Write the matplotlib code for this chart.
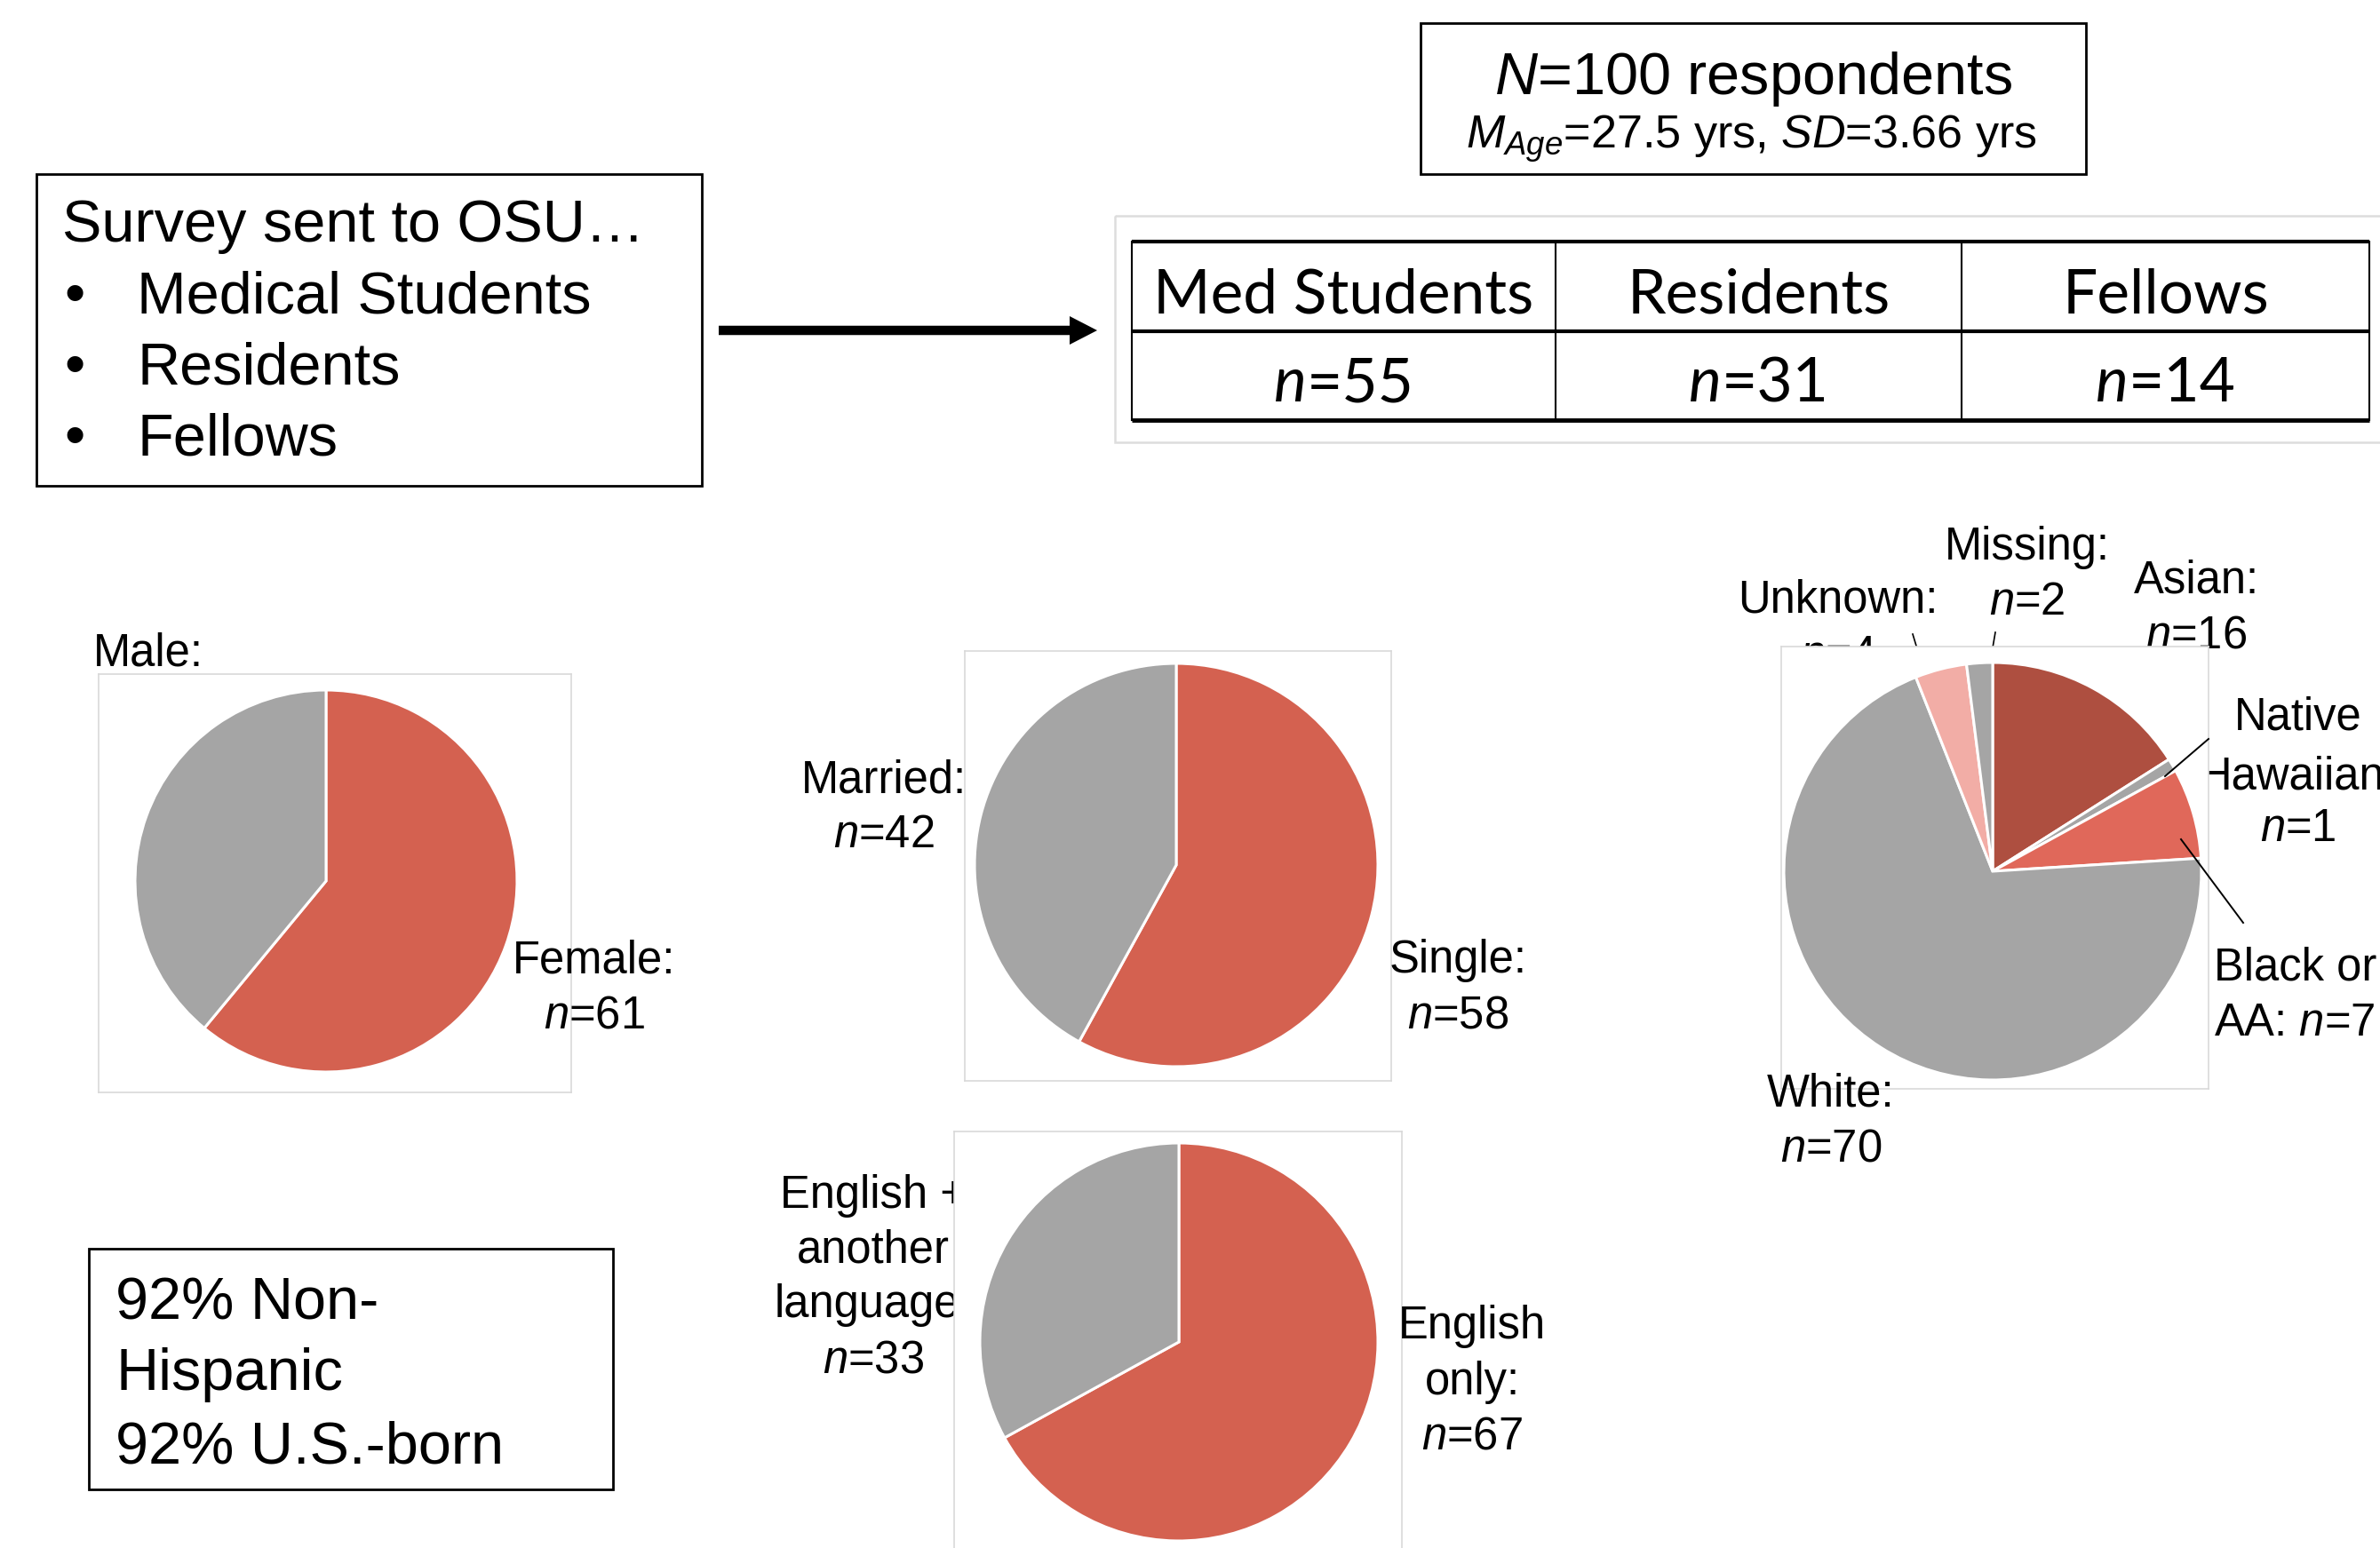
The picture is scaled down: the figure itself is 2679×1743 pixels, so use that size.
import matplotlib
matplotlib.use("Agg")
import matplotlib.pyplot as plt
from matplotlib.patches import Rectangle, FancyArrow

# ---------------------------------------------------------------- data
total_n = 100
mean_age = 27.5
sd_age = 3.66

survey_groups = ["Medical Students", "Residents", "Fellows"]

training_groups = ["Med Students", "Residents", "Fellows"]
training_counts = [55, 31, 14]

gender_labels = ["Female", "Male"]
gender_counts = [61, 39]

marital_labels = ["Single", "Married"]
marital_counts = [58, 42]

language_labels = ["English only", "English + another language"]
language_counts = [67, 33]

race_labels = ["Asian", "Native Hawaiian", "Black or AA", "White", "Unknown", "Missing"]
race_counts = [16, 1, 7, 70, 4, 2]

non_hispanic_pct = 92
us_born_pct = 92

# ---------------------------------------------------------------- style
W, H = 2679, 1743
DPI = 100

RED = "#D46150"
GRAY = "#A5A5A5"
race_colors = ["#AE4F40", GRAY, "#E0685A", GRAY, "#F2ADA6", GRAY]
FRAME = "#D9D9D9"
LABEL_SIZE = 36.5
BOX_SIZE = 48

plt.rcParams.update({
    "font.family": ["Liberation Sans", "DejaVu Sans"],
    "mathtext.fontset": "custom",
    "mathtext.rm": "Liberation Sans",
    "mathtext.it": "Liberation Sans:italic",
    "mathtext.bf": "Liberation Sans:bold",
})

fig = plt.figure(figsize=(W / DPI, H / DPI), dpi=DPI, facecolor="white")


def canvas_axes(z):
    ax = fig.add_axes([0, 0, 1, 1], zorder=z)
    ax.set_xlim(0, W)
    ax.set_ylim(H, 0)
    ax.axis("off")
    return ax


bg = canvas_axes(0)   # layer beneath the chart panels
fg = canvas_axes(5)   # layer above the chart panels


def nstr(v):
    return rf"$n$={v}"


def label_lines(name, count, wrap=None, same_line=False):
    parts = list(wrap) if wrap else [name]
    parts[-1] = parts[-1] + ":"
    if same_line:
        parts[-1] += " " + nstr(count)
    else:
        parts.append(nstr(count))
    return parts


def put_label(ax, x, baselines, lines, ha="center", size=LABEL_SIZE):
    for y, s in zip(baselines, lines):
        ax.text(x, y, s, ha=ha, va="baseline", fontsize=size, color="black")


def pie_panel(frame, center, radius, counts, colors):
    x0, y0, x1, y1 = frame
    ax = fig.add_axes([x0 / W, 1 - y1 / H, (x1 - x0) / W, (y1 - y0) / H], zorder=2)
    ax.pie(counts, colors=colors, startangle=90, counterclock=False,
           center=(center[0], H - center[1]), radius=radius,
           wedgeprops=dict(edgecolor="white", linewidth=2.2))
    ax.set_aspect("auto")
    ax.set_xlim(x0, x1)
    ax.set_ylim(H - y1, H - y0)
    ax.set_frame_on(True)
    ax.set_facecolor("white")
    ax.set_xticks([])
    ax.set_yticks([])
    for s in ax.spines.values():
        s.set_color(FRAME)
        s.set_linewidth(1.2)
    return ax


# ---------------------------------------------------------------- survey box
bg.add_patch(Rectangle((41, 196), 749, 351, fill=False, ec="black", lw=2))
bg.text(70, 272, "Survey sent to OSU\u2026", ha="left", va="baseline", fontsize=BOX_SIZE)
for i, grp in enumerate(survey_groups):
    yb = 352 + 80 * i
    bg.text(72, yb, "\u2022", ha="left", va="baseline", fontsize=BOX_SIZE)
    bg.text(154, yb, grp, ha="left", va="baseline", fontsize=BOX_SIZE)

bg.add_patch(FancyArrow(809, 372, 426, 0, width=10.5, head_width=32, head_length=31,
                        length_includes_head=True, color="black", lw=0))

# ---------------------------------------------------------------- N box
bg.add_patch(Rectangle((1599, 26), 749, 170, fill=False, ec="black", lw=2))
bg.text(1973, 106, rf"$N$={total_n} respondents", ha="center", va="baseline", fontsize=48)
bg.text(1971, 167, rf"$M_{{Age}}$={mean_age} yrs, $SD$={sd_age} yrs",
        ha="center", va="baseline", fontsize=37.5)

# ---------------------------------------------------------------- training table
bg.add_patch(Rectangle((1255, 243), 1440, 255, fill=False, ec="#DDDDDD", lw=1.8))
col_edges = [1274, 1751, 2208, 2667]
for yl, lw in [(272, 3), (373, 3), (473, 3.5)]:
    bg.plot([col_edges[0], col_edges[-1]], [yl, yl], color="black", lw=lw,
            solid_capstyle="butt")
for xe in col_edges:
    bg.plot([xe, xe], [272, 473], color="black", lw=1.5)

TABLE_FONT = ["Lato", "DejaVu Sans"]
TABLE_SIZE = 50
renderer = fig.canvas.get_renderer()
for i, (grp, cnt) in enumerate(zip(training_groups, training_counts)):
    cx = (col_edges[i] + col_edges[i + 1]) / 2
    bg.text(cx, 352, grp, ha="center", va="baseline", fontsize=TABLE_SIZE,
            family=TABLE_FONT)
    tn = bg.text(0, 452, "n", ha="left", va="baseline", fontsize=TABLE_SIZE,
                 family=TABLE_FONT, style="italic")
    te = bg.text(0, 452, f"={cnt}", ha="left", va="baseline", fontsize=TABLE_SIZE,
                 family=TABLE_FONT)
    wn = tn.get_window_extent(renderer).width
    we = te.get_window_extent(renderer).width
    x0 = cx - (wn + we) / 2
    tn.set_x(x0)
    te.set_x(x0 + wn)

# ---------------------------------------------------------------- gender pie
pie_panel((111, 759, 643, 1230), (367, 992), 215, gender_counts, [RED, GRAY])
put_label(fg, 669, [1096, 1157], label_lines(gender_labels[0], gender_counts[0]))
put_label(bg, 167, [749, 810], label_lines(gender_labels[1], gender_counts[1]))

# ---------------------------------------------------------------- marital pie
pie_panel((1086, 733, 1566, 1217), (1324, 974), 227, marital_counts, [RED, GRAY])
put_label(fg, 1641, [1095, 1158], label_lines(marital_labels[0], marital_counts[0]))
put_label(bg, 995, [892, 954], label_lines(marital_labels[1], marital_counts[1]))

# ---------------------------------------------------------------- language pie
pie_panel((1074, 1274, 1578, 1760), (1327, 1511), 224, language_counts, [RED, GRAY])
put_label(fg, 1657, [1507, 1570, 1632],
          label_lines(language_labels[0], language_counts[0], wrap=["English", "only"]))
put_label(bg, 983, [1360, 1422, 1483, 1545],
          label_lines(language_labels[1], language_counts[1],
                      wrap=["English +", "another", "language"]))

# ---------------------------------------------------------------- race pie
pie_panel((2005, 728, 2486, 1226), (2243, 981), 235, race_counts, race_colors)

# leader lines
bg.plot([2153, 2170], [714, 770], color="black", lw=1.2)
bg.plot([2246, 2236], [712, 770], color="black", lw=1.2)
fg.plot([2437, 2486], [874, 832], color="black", lw=1.4)
fg.plot([2455, 2525], [945, 1039], color="black", lw=1.4)

put_label(bg, 2472, [667, 729], label_lines(race_labels[0], race_counts[0]))
put_label(bg, 2587, [821, 888, 947],
          label_lines(race_labels[1], race_counts[1], wrap=["Native", "Hawaiian"]))
put_label(fg, 2492, [1104, 1166],
          label_lines(race_labels[2], race_counts[2], wrap=["Black or", "AA"], same_line=True),
          ha="left")
put_label(fg, 2061, [1246, 1308], label_lines(race_labels[3], race_counts[3]))
put_label(bg, 2069, [690, 752], label_lines(race_labels[4], race_counts[4]))
put_label(fg, 2282, [630, 692], label_lines(race_labels[5], race_counts[5]))

# ---------------------------------------------------------------- ethnicity / birthplace box
bg.add_patch(Rectangle((100, 1406), 590, 271, fill=False, ec="black", lw=2))
for yb, s in zip([1486, 1565, 1647],
                 [f"{non_hispanic_pct}% Non-", "Hispanic", f"{us_born_pct}% U.S.-born"]):
    bg.text(130, yb, s, ha="left", va="baseline", fontsize=BOX_SIZE)

fig.savefig("out.png", dpi=DPI, facecolor="white")
